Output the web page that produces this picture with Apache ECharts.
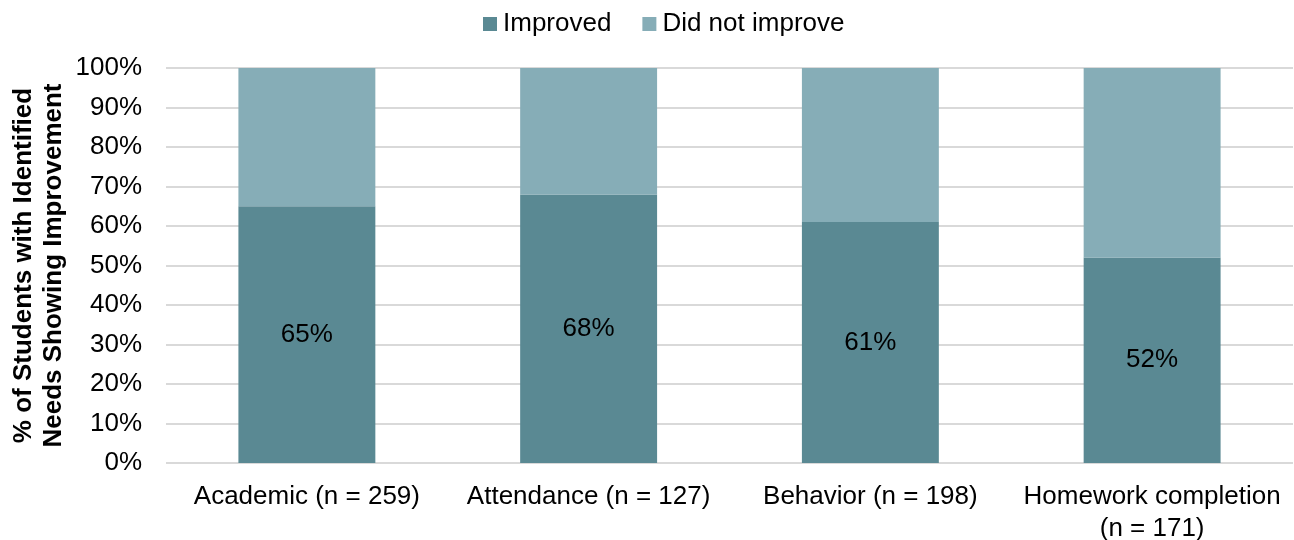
<!DOCTYPE html>
<html><head><meta charset="utf-8">
<script src="https://cdn.jsdelivr.net/npm/echarts@6/dist/echarts.min.js"></script>
<style>html,body{margin:0;padding:0;background:#fff}#c{width:1294px;height:540px}</style>
</head><body><div id="c"></div>
<script>
const categories = ['Academic (n = 259)', 'Attendance (n = 127)', 'Behavior (n = 198)', 'Homework completion\n(n = 171)'];
const improved = [65, 68, 61, 52];
const didNotImprove = [35, 32, 39, 48];
const seriesNames = ['Improved', 'Did not improve'];
const yTicks = [0, 10, 20, 30, 40, 50, 60, 70, 80, 90, 100];
const yTitle = '% of Students with Identified\nNeeds Showing Improvement';

const chart = echarts.init(document.getElementById('c'));
const font = 'Liberation Sans, Arial, sans-serif';
chart.setOption({
  animation: false,
  textStyle: { fontFamily: font },
  legend: {
    top: 6, left: 478, itemWidth: 14, itemHeight: 14, itemGap: 31,
    icon: 'rect',
    textStyle: { fontSize: 26, color: '#000', fontFamily: font, padding: [0, 0, 0, 1] },
    data: seriesNames
  },
  grid: { left: 166, right: 1, top: 68, bottom: 77, containLabel: false, outerBoundsMode: 'none' },
  xAxis: {
    type: 'category', data: categories,
    axisLine: { show: false }, axisTick: { show: false },
    axisLabel: { interval: 0, fontSize: 26, color: '#000', margin: 18, lineHeight: 32, fontFamily: font, hideOverlap: false }
  },
  yAxis: {
    type: 'value', min: 0, max: 100, interval: 10,
    name: yTitle, nameLocation: 'middle', nameGap: 97, nameRotate: 90, nameMoveOverlap: false,
    nameTextStyle: { fontSize: 26, fontWeight: 'bold', color: '#000', lineHeight: 30, fontFamily: font },
    axisLabel: { fontSize: 26, color: '#000', margin: 24, formatter: v => yTicks.includes(v) ? v + '%' : '', fontFamily: font },
    splitLine: { lineStyle: { color: '#d9d9d9', width: 2 } },
    axisLine: { show: false }, axisTick: { show: false }
  },
  series: [
    { name: seriesNames[0], type: 'bar', stack: 's', data: improved, barWidth: '48.6%',
      itemStyle: { color: '#5a8993' },
      label: { show: true, position: 'inside', formatter: p => p.value + '%', fontSize: 26, color: '#000', fontFamily: font } },
    { name: seriesNames[1], type: 'bar', stack: 's', data: didNotImprove, barWidth: '48.6%',
      itemStyle: { color: '#86adb7' } }
  ]
});
</script></body></html>
